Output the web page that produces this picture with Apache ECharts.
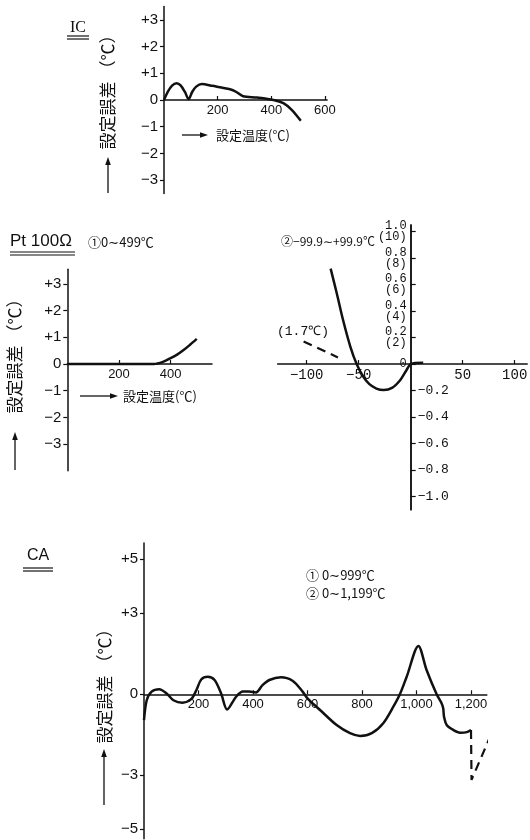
<!DOCTYPE html>
<html>
<head>
<meta charset="utf-8">
<script src="https://cdn.jsdelivr.net/npm/echarts@6/dist/echarts.min.js"></script>
<style>
  html, body { margin: 0; padding: 0; background: #fff; }
  #chart { width: 530px; height: 840px; }
</style>
</head>
<body>
<div id="chart"></div>
<script>
// IC sensor: setting error (°C) against set temperature (°C)
const icError = [[0, 0], [15, 0.32], [30, 0.54], [47, 0.63], [62, 0.55], [78, 0.3], [92, 0.03], [105, 0.3], [120, 0.5], [141, 0.6], [180, 0.53], [246, 0.4], [270, 0.3], [295, 0.14], [346, 0.09], [408, 0], [445, -0.12], [476, -0.37], [510, -0.78]];
const icXTicks = [200, 400, 600];
const icYTicks = [-3, -2, -1, 0, 1, 2, 3];

// Pt100Ω, range ① 0~499°C
const ptHighError = [[0, 0], [100, 0], [200, 0], [300, 0], [335, 0], [370, 0.08], [398, 0.21], [425, 0.35], [450, 0.52], [475, 0.72], [501, 0.94]];
const ptHighXTicks = [200, 400];
const ptHighYTicks = [-3, -2, -1, 0, 1, 2, 3];

// Pt100Ω, range ② -99.9~+99.9°C
const ptLowError = [[-77, 0.72], [-71, 0.53], [-65, 0.33], [-58, 0.13], [-52, 0], [-46, -0.09], [-40, -0.15], [-33, -0.185], [-26, -0.196], [-18, -0.18], [-10, -0.12], [-4, -0.045], [0, 0], [12, 0.01]];
const ptLowDashed = [[-103, 0.17], [-70, 0.05]];
const ptLowXTicks = [-100, -50, 50, 100];
const ptLowYTicksPos = [0, 0.2, 0.4, 0.6, 0.8, 1.0];
const ptLowYTicksNeg = [-0.2, -0.4, -0.6, -0.8, -1.0];

// CA thermocouple, ranges ① 0~999°C and ② 0~1,199°C
const caError = [[0, -0.96], [10, -0.22], [28, 0.1], [56, 0.19], [83, 0.03], [108, -0.22], [141, -0.31], [173, -0.18], [192, 0.15], [210, 0.55], [234, 0.65], [259, 0.53], [283, 0.03], [305, -0.56], [338, -0.09], [363, 0.1], [385, 0.1], [411, 0.07], [435, 0.34], [460, 0.53], [502, 0.63], [545, 0.5], [582, 0.1], [600, -0.15], [646, -0.58], [707, -1.14], [756, -1.44], [793, -1.54], [836, -1.44], [878, -1.07], [915, -0.46], [939, 0], [964, 0.65], [1007, 1.79], [1037, 0.9], [1074, 0], [1092, -0.33], [1098, -0.52], [1101, -0.83], [1111, -1.14], [1135, -1.32], [1160, -1.42], [1185, -1.4], [1200, -1.32]];
const caDashed = [[1200, -1.32], [1202, -3.17], [1294, -1.01]];
const caXTicks = [200, 400, 600, 800, 1000, 1200];
const caYTicks = [-5, -3, 0, 3, 5];

const INK = '#111';
const SANS = '"Liberation Sans", "DejaVu Sans", sans-serif';
const MONO = '"Liberation Mono", "DejaVu Sans Mono", monospace';
const CJK = '"Noto Sans CJK JP", "Noto Sans", sans-serif';

const signed = v => v > 0 ? '+' + v : (v < 0 ? '\u2212' + Math.abs(v) : '0');
const minusOnly = v => v < 0 ? '\u2212' + Math.abs(v) : String(v);
const thousands = v => v >= 1000 ? Math.floor(v / 1000) + ',' + String(v % 1000).padStart(3, '0') : String(v);

// panel frames: pixel box plus value ranges
const panels = [
  { box: { left: 164, top: 6.55, width: 163.1, height: 186.9 }, x: [0, 608], y: [-3.5, 3.5] },
  { box: { left: 67.3, top: 269.2, width: 144.7, height: 201.6 }, x: [0, 560], y: [-4, 3.55] },
  { box: { left: 277.6, top: 224.9, width: 249.6, height: 284.9 }, x: [-128, 112], y: [-1.1, 1.05] },
  { box: { left: 144, top: 543.1, width: 342.8, height: 295.65 }, x: [0, 1258], y: [-5.35, 5.6] }
];

// axes cross at zero: shift each axis from the grid edge to the zero line
const xZeroShift = p => -p.box.height * (0 - p.y[0]) / (p.y[1] - p.y[0]);
const yZeroShiftLeft = p => -p.box.width * (0 - p.x[0]) / (p.x[1] - p.x[0]);
const yZeroShiftRight = p => -p.box.width * (p.x[1] - 0) / (p.x[1] - p.x[0]);

function xAxis(i, ticks, fmt, font, size) {
  const p = panels[i];
  return {
    type: 'value', gridIndex: i, min: p.x[0], max: p.x[1], position: 'bottom', offset: xZeroShift(p),
    axisLine: { onZero: false, lineStyle: { color: INK, width: 1.5 } },
    axisTick: { show: true, inside: true, length: 4, customValues: ticks, lineStyle: { color: INK, width: 1.2 } },
    axisLabel: { customValues: ticks, formatter: fmt, margin: 4, color: INK, fontSize: size || 13, fontFamily: font || SANS },
    splitLine: { show: false }
  };
}

function yAxis(i, ticks, opts) {
  opts = opts || {};
  const p = panels[i];
  const right = opts.position === 'right';
  return {
    type: 'value', gridIndex: i, min: p.y[0], max: p.y[1],
    position: right ? 'right' : 'left',
    offset: right ? yZeroShiftRight(p) : yZeroShiftLeft(p),
    axisLine: { onZero: false, lineStyle: { color: INK, width: 1.5 } },
    axisTick: { show: true, inside: !!opts.tickInside, length: opts.tickLen || 4, customValues: ticks, lineStyle: { color: INK, width: 1.2 } },
    axisLabel: {
      customValues: ticks, formatter: opts.formatter || signed, margin: opts.margin || 6,
      color: INK, fontSize: opts.fontSize || 15, fontFamily: opts.font || SANS, lineHeight: opts.lineHeight
    },
    splitLine: { show: false }
  };
}

function curve(xi, yi, data, dashed) {
  return {
    type: 'line', xAxisIndex: xi, yAxisIndex: yi, data,
    showSymbol: false, smooth: dashed ? false : 0.3, clip: false, silent: true,
    lineStyle: { color: INK, width: dashed ? 2.2 : 2.5, type: dashed ? [9, 6] : 'solid', cap: 'butt' }
  };
}

// decorations: titles, rotated axis captions, arrows, underlines
function text(x, y, str, size, font) {
  return { type: 'text', x, y,
    style: { text: str, fill: INK, font: size + 'px ' + font, textAlign: 'left', textVerticalAlign: 'middle' } };
}
function vText(x, y, str, size) {
  return { type: 'text', x, y, rotation: Math.PI / 2,
    style: { text: str, fill: INK, font: size + 'px ' + CJK, textAlign: 'center', textVerticalAlign: 'middle' } };
}
function line(x1, y1, x2, y2, w) {
  return { type: 'line', shape: { x1, y1, x2, y2 }, style: { stroke: INK, lineWidth: w || 1.3 } };
}
function upArrow(x, yTop, yBottom) {
  return [line(x, yBottom, x, yTop + 6, 1.3),
    { type: 'polygon', shape: { points: [[x, yTop], [x - 2.8, yTop + 8], [x + 2.8, yTop + 8]] }, style: { fill: INK } }];
}
function rightArrow(xLeft, xRight, y) {
  return [line(xLeft, y, xRight - 6, y, 1.3),
    { type: 'polygon', shape: { points: [[xRight, y], [xRight - 8, y - 2.8], [xRight - 8, y + 2.8]] }, style: { fill: INK } }];
}

const AXIS_CAPTION = '設定誤差 （℃）';
const decorations = [
  // IC
  text(70, 28, 'IC', 16, '"Liberation Serif", serif'),
  line(67, 36, 89, 36, 1.2), line(67, 39, 89, 39, 1.2),
  vText(108, 88, AXIS_CAPTION, 17),
  ...upArrow(108, 157, 193),
  ...rightArrow(182, 208, 135),
  text(216, 135, '設定温度(℃)', 13, CJK),
  // Pt100Ω
  text(10, 241, 'Pt 100Ω', 17, SANS),
  line(10, 252, 75, 252, 1.2), line(10, 255, 75, 255, 1.2),
  text(88, 242, '①0∼499℃', 13, CJK),
  text(281, 241, '②\u221299.9∼+99.9℃', 12, CJK),
  vText(15, 352, AXIS_CAPTION, 17),
  ...upArrow(15, 432, 470),
  ...rightArrow(80, 118, 396),
  text(123, 396, '設定温度(℃)', 13, CJK),
  text(277, 332, '(1.7℃)', 13, MONO),
  // CA
  text(27, 556, 'CA', 16, SANS),
  line(23, 568, 53, 568, 1.2), line(23, 571, 53, 571, 1.2),
  vText(105, 682, AXIS_CAPTION, 17),
  ...upArrow(104, 749, 805),
  text(306, 575, '① 0∼999℃', 13, CJK),
  text(306, 593, '② 0∼1,199℃', 13, CJK)
];

const chart = echarts.init(document.getElementById('chart'), null, { renderer: 'canvas' });
chart.setOption({
  animation: false,
  backgroundColor: '#fff',
  grid: panels.map(p => Object.assign({ outerBoundsMode: 'none', containLabel: false }, p.box)),
  xAxis: [
    xAxis(0, icXTicks, String),
    xAxis(1, ptHighXTicks, String),
    xAxis(2, ptLowXTicks, minusOnly, MONO, 14),
    xAxis(3, caXTicks, thousands)
  ],
  yAxis: [
    yAxis(0, icYTicks),
    yAxis(1, ptHighYTicks),
    yAxis(2, ptLowYTicksPos, {
      tickInside: true, tickLen: 5, margin: 4, fontSize: 12, lineHeight: 11, font: MONO,
      formatter: v => v === 0 ? '0' : v.toFixed(1) + '\n(' + Math.round(v * 10) + ')'
    }),
    yAxis(2, ptLowYTicksNeg, {
      position: 'right', tickLen: 5, margin: 7, fontSize: 13, font: MONO,
      formatter: v => '\u2212' + Math.abs(v).toFixed(1)
    }),
    yAxis(3, caYTicks)
  ],
  series: [
    curve(0, 0, icError),
    curve(1, 1, ptHighError),
    curve(2, 2, ptLowError),
    curve(2, 2, ptLowDashed, true),
    curve(3, 4, caError),
    curve(3, 4, caDashed, true)
  ],
  graphic: decorations
});
</script>
</body>
</html>
